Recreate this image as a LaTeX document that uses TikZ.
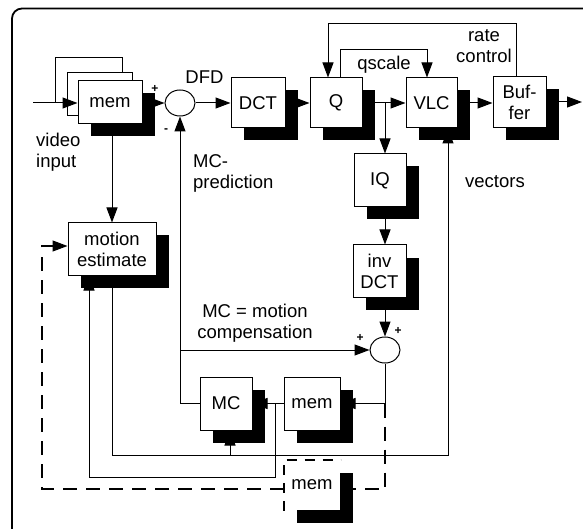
\documentclass[tikz,border=0pt]{standalone}
\usepackage{fontspec}
\setmainfont{Liberation Sans}
\usetikzlibrary{arrows.meta,shapes.geometric,shadows}
\newcommand{\fsz}{\fontsize{18.5}{21}\selectfont}
\tikzset{
  plainbox/.style={draw, line width=1pt, fill=white, inner sep=0pt, align=center, font=\fsz},
  blk/.style={plainbox, drop shadow={shadow xshift=13pt, shadow yshift=-12.5pt, fill=black, opacity=1}},
  con/.style={line width=1pt, -{Triangle[length=15pt,width=11pt]}},
  ln/.style={line width=1pt},
  dsh/.style={line width=2pt, dash pattern=on 14pt off 9pt},
  sumnode/.style={draw, ellipse, line width=1pt, minimum width=30pt, minimum height=26pt, inner sep=0pt},
  lbl/.style={font=\fsz, inner sep=0pt, align=center},
  sgn/.style={font=\fontsize{12}{12}\selectfont\bfseries, inner sep=0pt}
}
\begin{document}
\begin{tikzpicture}[x=1pt,y=-1pt]
\useasboundingbox (0,0) rectangle (583,529);
% outer frame
\draw[line width=1.8pt, rounded corners=10pt] (12,600) -- (12,8.5) -- (700,8.5);

% boxes
\node[plainbox, minimum width=67pt, minimum height=45pt] (memb3) at (88.5,80.5) {};
\node[plainbox, minimum width=65pt, minimum height=43pt] (memb2) at (99.5,94.5) {};
\node[blk, minimum width=64pt, minimum height=43pt] (mem) at (110,102.5) {mem};
\node[sumnode] (c1) at (180,103) {};
\node[blk, minimum width=54pt, minimum height=50pt] (dct) at (258,103) {DCT};
\node[blk, minimum width=52pt, minimum height=50pt] (q) at (336,103) {Q};
\node[blk, minimum width=51pt, minimum height=50pt] (vlc) at (431.5,103) {VLC};
\node[blk, minimum width=53pt, minimum height=51pt] (buf) at (519.5,102) {Buf-\\fer};
\node[blk, minimum width=52pt, minimum height=53pt] (iq) at (380,180.5) {IQ};
\node[blk, minimum width=53pt, minimum height=52pt] (idct) at (379.5,271) {inv\\DCT};
\node[sumnode] (c2) at (385,350) {};
\node[blk, minimum width=88pt, minimum height=52pt] (me) at (112,249) {motion\\estimate};
\node[blk, minimum width=52pt, minimum height=53pt] (mc) at (226,403.5) {MC};
\node[blk, minimum width=56pt, minimum height=53pt] (mem2) at (312,403.5) {mem};
\node[blk, draw=none, minimum width=56pt, minimum height=50pt] (mem3) at (312,485) {mem};
\draw[line width=2pt, dash pattern=on 10pt off 8pt] (mem3.south west) -- (mem3.north west) -- (mem3.north east);

% labels
\node[lbl, align=left, anchor=west] (vin) at (36,152.5) {video\\input};
\node[lbl] (dfd) at (204.5,77) {DFD};
\node[lbl, align=left, anchor=west] (mcp) at (193,173) {MC-\\prediction};
\node[lbl] (qsl) at (384,65) {qscale};
\node[lbl] (rcl) at (484,46) {rate\\control};
\node[lbl] (vec) at (495,182) {vectors};
\node[lbl] (mceq) at (255,323) {MC = motion\\compensation};
\node[sgn] (p1) at (155,89) {+};
\node[sgn] (m1) at (166,131) {-};
\node[sgn] (p2) at (398,331) {+};
\node[sgn] (p3) at (360,338) {+};

% coordinates
\coordinate (in) at (33,103);
\coordinate (out) at (582,102);
\coordinate (br) at (385,103);
\coordinate (qs1) at (340,50);
\coordinate (qs2) at (427,50);
\coordinate (rc1) at (516,24);
\coordinate (rc2) at (328,24);
\coordinate (j2) at (385,403.5);
\coordinate (j1) at (275,403.5);
\coordinate (ref1) at (89,477);
\coordinate (v1) at (112,455);
\coordinate (v2) at (448,455);
\coordinate (v3) at (230,455);
\coordinate (d1) at (385,489);
\coordinate (d2) at (42,489);
\coordinate (d3) at (42,246);
\coordinate (d4) at (53,246);

% connectors
\draw[con] (in) -- (mem.west |- in);
\draw[con] (mem.east |- c1) -- (c1.west);
\draw[con] (c1.east) -- (dct.west);
\draw[con] (dct.east) -- (q.west);
\draw[con] (q.east) -- (vlc.west);
\draw[con] (vlc.east) -- (vlc.east -| buf.west);
\draw[con] (buf.east) -- (out);
\draw[con] (br) -- (br |- iq.north);
\draw[con] (iq.south -| br) -- (idct.north -| br);
\draw[con] (idct.south -| br) -- (c2.north);
\draw[con] (qs1 |- q.north) -- (qs1) -- (qs2) -- (qs2 |- vlc.north);
\draw[con] (rc1 |- buf.north) -- (rc1) -- (rc2) -- (rc2 |- q.north);
\draw[con] (mem.south -| me.north) -- (me.north);
\draw[con] (mc.west) -| (c1.south);
\draw[con] (c1.south |- c2.west) -- (c2.west);
\draw[con] (c2.south) -- (j2) -- (mem2.east);
\draw[con] (mem2.west) -- (mc.east);
\draw[con] (j1) -- (j1 |- ref1) -- (ref1) -- (ref1 |- me.south);
\draw[con] (me.south) -- (v1) -- (v2) -- (v2 |- vlc.south);
\draw[con] (v3) -- (v3 |- mc.south);
\draw[dsh] (j2) -- (d1) -- (d1 -| mem3.east);
\draw[dsh] (mem3.west |- d2) -- (d2) -- (d3) -- (d4);
\draw[con] (d4) -- (me.west |- d4);
\end{tikzpicture}
\end{document}
